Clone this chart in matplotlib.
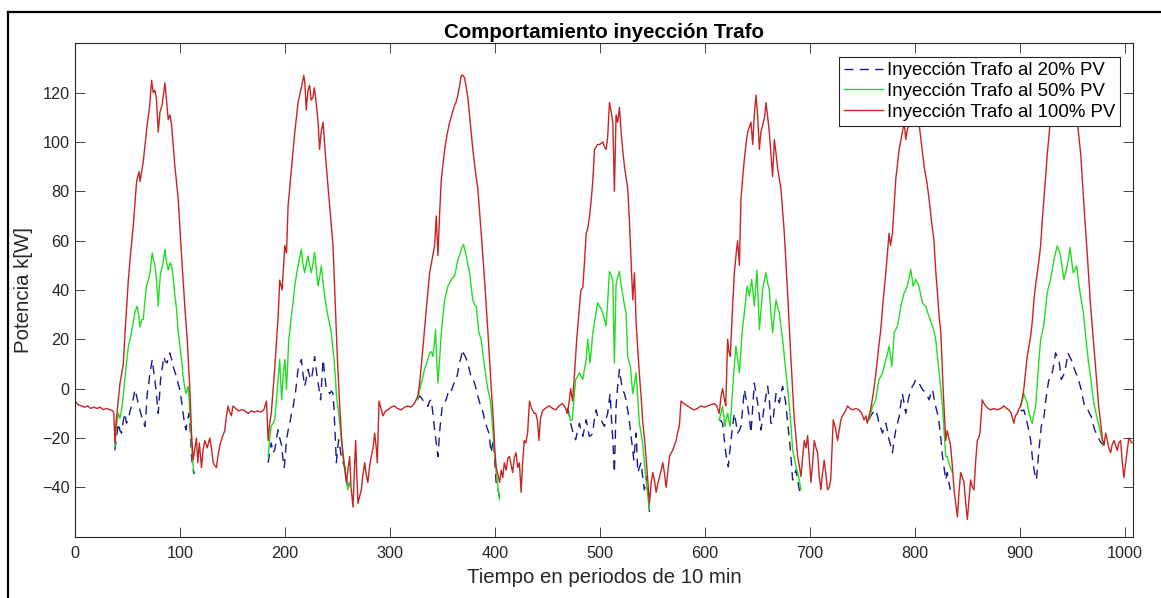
# -*- coding: utf-8 -*-
# Comportamiento de la inyeccion del trafo (3 niveles de PV, 7 dias)
import matplotlib.pyplot as plt
from matplotlib.lines import Line2D

# ---- datos (periodo de 10 min, kW) ----
# 100% PV : serie completa
pv100_t = [0, 3, 6, 9, 12, 15, 18, 21, 24, 27, 30, 33, 36, 37, 38, 39, 40, 42.8, 46, 48, 50.8, 53, 55.5, 58.7,
           61, 62, 65, 68.8, 71, 73, 74.5, 76, 77.5, 79.3, 80.9, 83, 85.7, 87, 88.8, 90.5, 92, 95.2, 98.3,
           101.5, 104.7, 106.9, 109.4, 111, 112.6, 114, 115.7, 117, 118.5, 120.5, 122, 123.7, 126, 128.4,
           130, 131.6, 133, 134.7, 136, 138, 140, 142.7, 144, 145.9, 147, 149, 150.5, 153, 156, 159, 162,
           165, 168, 171, 174, 177, 180, 182.4,
           184, 185.5, 187, 190.4, 193.5, 195, 197.3, 199.9, 201.5, 203, 206.2, 209.4, 212.5, 215.7, 218,
           219, 220.3, 222, 223.5, 225, 226.6, 228, 230, 231.6, 233, 234.5, 236.4, 238, 239.5, 242.7, 245.8,
           248, 250, 252.2, 254, 255.4, 257, 258.5, 260, 261.7, 263, 264.9, 266, 267.4, 268.5, 269.6, 271,
           272.8, 274, 276, 277.5, 279, 280.5, 282.2, 284, 285.5, 287, 288, 289.7, 291.5, 293.4, 296, 298,
           301, 304.4, 307, 310.7, 314, 317, 320, 323.4, 326.6,
           328.3, 330.5, 333, 335.5, 337.9, 340, 342.6, 344.2, 345.8, 347.5, 349, 352.2, 354.5, 356.9, 359,
           361.7, 363, 364.8, 366.5, 368, 369.5, 371.2, 374.3, 376.5, 379, 381.5, 383.8, 387, 390.2, 393.4,
           396.6, 398.8, 400, 401.3, 403, 404.5, 406, 407.6, 409, 410.8, 412.5, 414, 415.5, 417, 418.5,
           420.2, 421.8, 423.4, 425, 426.5, 428, 429.5, 431.2, 433, 435, 437.5, 439, 440.6, 442, 443.5,
           445.4, 448, 451.7, 455, 458, 461, 464.3, 467, 469, 470.6,
           472.2, 474, 475.9, 478, 480.6, 482, 483.8, 485.5, 487, 488.5, 490, 491.5, 493.3, 495, 498, 500,
           502.8, 504.5, 506, 507.5, 509.2, 511, 512.4, 513.9, 515.5, 517, 518.7, 520.3, 522, 523.5, 526.6,
           528, 529.2, 530.5, 531.4, 533, 534.6, 536, 537.7, 539.5, 541, 542.5, 544, 545.5, 547.3, 549,
           550.5, 552, 553.7, 555, 556.8, 558.5, 560, 561.5, 563.2, 565, 566.4, 568, 569.5, 571, 572.7, 574,
           575.8, 577.4, 580, 583.7, 587, 590, 593, 596.4, 600, 602.7, 606, 609, 611.5, 613.8,
           615.5, 617, 619, 620, 621.8, 623, 624.3, 626.5, 628.2, 630, 631.3, 633, 634.5, 636, 637.7, 639.5,
           640.9, 642.5, 644, 645.7, 647, 648.8, 650.5, 652, 653.5, 655.2, 657, 658.3, 660, 661.5, 663,
           664.6, 666.3, 668, 669.5, 671, 672.6, 675.8, 678.9, 682.1, 683.7, 685.3, 687, 688.5, 690, 691.6,
           693.3, 694.8, 696.5, 698, 699.5, 701.2, 702.8, 704.3, 706, 707.5, 709, 710.6, 712, 713.8, 715.5,
           717, 718.5, 720, 721.2, 722.4, 724.5, 726.5, 728, 729.7, 731.2, 732.8, 734.5, 736, 738.5, 740.7,
           744, 747, 749.5, 751.8, 753.5, 754.9, 756.5, 758,
           760.5, 763, 765.5, 767.7, 770, 772.5, 775.6, 777, 778.8, 780.5, 782, 785.2, 788.3, 790, 791.5,
           793, 794.7, 797, 800, 802, 804, 806.5, 809, 811.5, 813.7, 816, 818.4, 820, 821.5, 823.3, 824.9,
           826.5, 828, 829.6, 831, 832.5, 834.2, 836, 837.5, 839, 840.7, 842.2, 843.8, 845.5, 847, 848.5,
           850.2, 851.7, 853.3, 855, 856.5, 858, 859.7, 861, 862.2, 864.4, 866, 867.6, 870, 872.4, 875.5,
           878.7, 882, 885, 887.5, 889.8, 892, 894.5, 896, 897.7, 899.5, 900.9,
           902.5, 904, 905.5, 907.2, 908.8, 910.4, 912, 913.6, 915.2, 916.8, 918.4, 920, 921.5, 923.2, 924.8,
           926.3, 928.9, 931, 934, 937, 940, 943, 946, 949, 952, 955, 956.5, 958.2, 961.3, 964.5, 967.6,
           970.8, 974, 975.5, 977.2, 978.7, 980.3, 982, 983.5, 985, 986.7, 988, 989.8, 991.5, 993, 994.5,
           996.2, 997.8, 999.3, 1001, 1002.5, 1004, 1005.5, 1007]
pv100_kw = [-5, -6.5, -7, -7.5, -7, -8, -7.5, -8, -7.5, -8.5, -8, -8.5, -9, -10, -22, -14, -10, 2, 10, 25, 44, 55, 66, 84,
            88, 84, 92, 107, 114, 125, 120, 121, 118, 104, 112, 115, 124, 118, 109, 111, 107, 90, 77,
            54, 33, 20, 0, -18, -29, -25, -20, -30, -22, -32, -25, -21, -24, -20,
            -24, -30, -31, -32, -28, -23, -20, -17, -12, -7, -9, -11, -7, -8, -9, -8.5, -9,
            -10, -9, -9.5, -9, -9.5, -8.5, -5,
            -21, -14, -10, 9, 29, 44, 40, 58, 55, 74, 89, 104, 116, 122, 127,
            124, 113, 121, 123, 117, 118, 122, 115, 108, 97, 104, 108, 98, 90, 74, 58,
            33.5, 12, -7, -20, -27.5, -33, -38, -33, -27.5, -40, -48, -35, -21, -35, -46.5, -44,
            -41, -36, -30, -35, -38, -32, -27.5, -24, -18, -24, -30, -5, -8, -11, -9, -8.6,
            -7.5, -7, -8, -8.6, -7.5, -7, -7.5, -6, -3,
            2, 12, 24, 36, 47, 52, 58, 70, 54, 72, 85, 97, 103, 108, 111,
            115, 116, 119, 123, 127, 127, 126, 118, 108, 97, 88, 81, 63, 44, 23,
            0, -14, -25, -32, -35, -38, -33, -36, -30, -33, -28, -27.5, -31, -34, -28,
            -26, -32, -30, -42, -30, -21, -22, -18, -5, -8, -10, -10, -13, -21, -12,
            -9, -8, -7, -8, -8.6, -7, -6, -7.5, -10, -6,
            0, -5, 6, 20, 33, 40, 41, 52, 63, 65, 69, 75, 84, 97, 99, 99,
            100, 98, 97, 102, 116, 112, 108, 80, 111, 108, 114, 104, 96, 90, 81,
            70, 58, 45, 36, 47, 27, 17, 6, -4, -14, -20, -27.5, -36, -46.5, -38,
            -34, -37, -42, -39, -36, -33, -30, -34, -40, -33, -27.5, -26, -25, -23, -21, -18,
            -15, -5, -6, -7, -8, -8.6, -8, -7, -7.5, -7, -6.5, -6, -7, -10,
            -3, 0, -5, -7, 20, 15, 13, 33, 47, 55, 60, 50, 77, 85, 93, 100,
            104, 106, 108, 99, 110, 119, 110, 97, 104, 107, 110, 116, 110, 104, 95,
            86, 101, 95, 89, 85, 81, 63, 39, 12, 0, -12.6, -20, -27.5, -31, -35.6,
            -28, -21, -24, -19, -28, -38, -30, -21, -24, -26, -35, -41, -35, -29, -35,
            -41, -40, -37, -25, -12.6, -16, -21, -17, -12.6, -11, -10, -8.5, -7, -8, -8.6,
            -8, -8.6, -10, -12.6, -11, -14, -11, -8.6,
            -2, 6, 16, 24, 36, 47, 63, 58, 63, 75, 85, 97, 104, 108, 101,
            105, 107, 113, 118, 114, 108, 99, 90, 84, 77, 68, 60, 48, 40, 29, 23,
            6, -8, -21, -17, -20, -23, -32, -41, -46, -52, -42, -34, -36, -38, -46,
            -53, -45, -37, -40, -41, -30, -21, -20, -18, -4.5, -6, -7, -8, -8.6, -8,
            -8.6, -8, -7, -8, -8.6, -10, -14, -11, -10, -8, -7,
            -4, 0, 6, 13, 17, 21, 27, 36, 42, 47, 52, 58, 68, 77, 86,
            95, 107, 113, 118, 121, 120, 122, 119, 121, 116, 108, 102, 95, 74, 54, 33.5,
            17, 0, -8, -14, -20, -23, -18, -21, -24, -26, -23, -21, -23, -25, -22,
            -21, -30, -36, -30, -25, -20, -21, -22]

# 50% PV : solo tramos de dia (de noche coincide con 100% PV)
pv50_t = [
    [38, 39.5, 41.2, 42.8, 44.4, 46, 47.6, 49, 50.8, 52.5, 53.9, 55.5, 57.1, 59.3, 60.5, 61.9, 63.5, 65, 66.5, 68.2,
     70, 71.4, 73.6, 75, 76.1, 77.5, 79.3, 80.5, 81.5, 83.5, 85.7, 87, 88.8, 90.5, 92, 93.5, 95.2, 96.8, 98.3,
     100, 101.5, 103, 104.7, 106, 107.8, 109, 110, 111, 112, 113, 114.2],
    [184, 185.5, 187, 188.7, 190.4, 192, 193.5, 195, 196.9, 198.5, 200, 201.5, 203.7, 206.2, 208, 209.4, 211, 212.5,
     214, 215.7, 217, 218.8, 220.5, 222, 223.5, 225.2, 226.8, 228.3, 230, 231.6, 233, 234.7, 236.3, 237.9, 239.5,
     241, 242.7, 244.2, 245.5, 246.8, 248, 249, 250, 251.2, 252.5, 253.7, 255.4, 257, 258.5, 260, 261.5],
    [326.6, 328.3, 330.5, 333, 335.5, 337.9, 339.5, 341, 342.3, 343.5, 344.6, 345.8, 347.4, 349, 350.6, 352.2, 353.8,
     355.3, 357, 358.5, 360, 361.7, 363.3, 364.8, 366.4, 368, 370.2, 371.5, 372.8, 374.4, 376, 377.5, 379, 380.7,
     382.3, 383.5, 384.8, 387, 388.6, 390.2, 391.8, 393.4, 395.6, 396.8, 398, 399.6, 401.3, 403, 404.5],
    [469, 470.6, 472.2, 473.8, 475.4, 477, 478.8, 480.6, 482.2, 483.8, 485.4, 487, 488.5, 490.7, 492, 493.3, 494.9,
     496.5, 498, 500.4, 502.8, 504.4, 506, 507.6, 509.2, 510.8, 512.4, 513.9, 515.5, 517, 518.7, 520.3, 521.9,
     523.4, 525, 526.6, 527.9, 529.2, 530.3, 531.4, 533, 534.6, 536.2, 537.7, 539.3, 541, 542.5, 544, 545.6, 547.3],
    [613.8, 615.4, 617, 619.2, 620.5, 621.8, 623, 624.3, 625.4, 626.5, 628.1, 629.7, 631.3, 633, 634, 635.1, 636.4,
     637.7, 639, 640.3, 641.4, 642.5, 643.6, 644.7, 646, 647.2, 648.5, 649.7, 651, 652, 653.6, 655.2, 656.8, 658.3,
     659.9, 661.5, 663.1, 664.7, 666.3, 667.9, 669.5, 671, 672.6, 674.2, 675.8, 677.4, 679, 680.6, 682.1, 683.7,
     685.3, 686.9, 688.5, 690, 691.6],
    [756.6, 758.2, 759.8, 761.4, 763, 764.5, 766, 767.7, 769.3, 770.9, 772.5, 774, 775.6, 777, 778.2, 779.3, 780.4,
     782, 783.6, 785.2, 786.8, 788.4, 790, 791.5, 793, 794.7, 796.3, 797.4, 798.5, 799.8, 801, 802.5, 804, 805.7,
     807.4, 809, 810.6, 812.2, 813.7, 815.4, 817, 818.5, 820, 821.7, 823.3, 824.9, 826.5, 828, 829.6, 831, 832.6,
     834, 836],
    [900.9, 902.5, 904, 905.6, 907.2, 908.5, 909.8, 911, 912, 913.6, 915.2, 916.8, 918.4, 920, 921.6, 923.2, 924.8,
     926.3, 928, 929.5, 931, 932.7, 934.2, 935.8, 937.4, 939, 940.6, 942.2, 943.8, 945.4, 946.7, 948, 949.5, 951,
     952.6, 954.3, 955.9, 957.5, 959.1, 960.7, 962.3, 963.9, 965.5, 967, 968.6, 970.2, 971.8, 973.4, 975, 976.5,
     978.1, 979.7, 981],
]
pv50_kw = [
    [-23.5, -15, -10, -12, -8.6, -3, 4.5, 10, 17, 20, 23, 27, 31, 33.5, 30, 25, 28, 28, 35, 42,
     44, 47, 55, 52, 50, 45, 33.5, 42, 47, 50, 56.5, 52, 48, 51, 50, 45, 37.5, 32, 23,
     17, 12, 5, 0, -2, 1, -6, -14, -22, -29, -33, -34.5],
    [-27.5, -20, -15.3, -14, -12.6, -4, 3.7, 11.8, -4.5, 6.4, 11.8, -0.4, 20, 29.4, 36, 41.6, 46, 49.8,
     53, 56.5, 51, 47, 51, 53.8, 50, 47, 51, 55.2, 48, 41.6, 45, 49.8, 43, 37.5, 33,
     29.4, 26, 22.7, 17, 11.8, 5, -2, -6, -10, -15, -20.7, -26, -31.6, -36, -41, -38],
    [-4.5, -0.4, 3, 7.8, 11, 14.5, 15, 13, 18, 24, 12, 2.3, 12, 22.7, 30, 36, 39,
     41.6, 43, 44.3, 45, 45.7, 49, 52.4, 54, 56.5, 58.5, 56, 53.8, 50, 47, 41, 36, 34,
     33.5, 28, 22.7, 20, 14, 9, 4, -0.4, -4.5, -10, -16.7, -25, -34, -40, -45],
    [-10, -10, -13, -12.6, -4, 3.7, 5, 6.4, 5, 3.7, 8, 11.8, 20, 10.4, 16, 22.7, 26.7,
     31, 34.8, 33, 30.8, 28, 25.4, 36, 47.5, 46, 44, 10.4, 42.3, 45, 47.5, 42, 38,
     34, 30.8, 13, 11, 9, 3, -2, 2, 6.4, -4, -14, -18, -23, -30, -37, -43, -49],
    [-12.6, -10, -7.2, -15.3, -12, -10, -13, -15.3, -8, -0.4, 9, 17.3, 12, 6.4, 13, 20, 26,
     30.8, 36, 41.6, 40, 37.5, 41, 44.3, 39, 33.5, 41, 48, 35, 24, 32, 40.3, 44, 47,
     43, 40, 30, 22.7, 30, 36, 33, 30.8, 25, 20, 13, 6.4, 0, -7.2, -15, -24.7,
     -28, -31.6, -34, -37, -41],
    [-12.6, -10, -7.2, -6, -4.5, 0, 3.7, 5, 6.4, 9, 11.8, 14, 17.3, 13, 9, 15, 22.7,
     24, 25.4, 29, 33.5, 36, 39, 40, 41.6, 45, 48.3, 45, 41.6, 43, 44.3, 43, 41.6, 38,
     34.8, 34, 33.5, 31, 29.4, 27, 25.4, 23, 20, 13, 6.4, 0, -7.2, -17, -27.5, -27.5, -30,
     -32, -34],
    [-7.2, -5, -2, -4, -5.8, -9, -11.3, -13, -14, -10, -7.2, 2, 11.8, 20, 23, 26.7, 33,
     39, 42, 44.3, 48, 52.4, 55, 57.9, 56, 53.8, 49, 44.3, 47, 49.8, 53, 57.2, 52, 47,
     48, 49.8, 44, 39, 35, 30.8, 24, 17.3, 11, 6.4, 1, -4.5, -8, -11.3, -14, -16.7,
     -20, -23, -22],
]

# 20% PV : solo tramos de dia
pv20_t = [
    [38, 39.5, 41.2, 42.8, 44.4, 46, 47.6, 49, 50.8, 52.5, 53.9, 55.5, 57.1, 58.7, 60.3, 62, 63.4, 65, 66.6, 68,
     68.8, 70, 71.4, 72.5, 73.6, 75, 76.1, 77.5, 79.3, 80.5, 81.5, 83, 84.6, 86, 87.8, 89, 90.3, 92, 93.5, 95,
     96.6, 98.3, 99.9, 101.5, 103, 104.3, 105.6, 107, 108.7, 110, 111, 112, 113.2],
    [184, 185.5, 187, 188.7, 190.4, 192, 193.5, 195, 196.9, 198, 199.4, 200.5, 201.5, 203, 204.7, 206.3, 207.9,
     209, 210, 211.2, 212.5, 214, 215.7, 217.2, 218.8, 220.4, 222, 223.6, 225.2, 226.8, 228.3, 230, 231.6, 232.8,
     234, 235.2, 236.4, 238, 239.5, 241, 242.7, 244.3, 245.8, 246.7, 247.5, 248.3, 249, 250, 251.2, 252.5, 253.7,
     255.4, 257, 258.5, 260, 261.5],
    [326.6, 328.3, 330.5, 333, 334.5, 336.2, 337.8, 339.4, 341, 342.6, 344.2, 345.8, 347.3, 348.6, 349.9, 351.7,
     353.6, 355.2, 356.9, 358.5, 360, 361.7, 363.3, 364.9, 366.4, 368, 369, 370.5, 372, 373.5, 375, 376.7, 378.4,
     380, 381.5, 383.2, 384.8, 386.4, 388, 389.5, 391, 392.7, 394.3, 395.4, 396.5, 397.6, 398.8, 400, 401.3, 403,
     404.5],
    [469, 470.6, 472.2, 473.8, 475.4, 477, 478.8, 480.6, 482.2, 483.8, 485.4, 487, 488.5, 490, 491.7, 493.3, 494.9,
     496.5, 498, 499.6, 501.2, 502.8, 504.4, 506, 507.5, 508.6, 509.8, 511.1, 512.4, 513.9, 515.5, 517, 518.7,
     520.3, 521.9, 523.4, 525, 526.3, 527.6, 528.7, 529.8, 531.1, 532.4, 533.5, 534.6, 535.4, 536.2, 537.7, 539.3,
     540.9, 542.5, 543.7, 545, 546.2, 547.3],
    [613.8, 615.4, 617, 618.5, 620, 621.2, 622.4, 623.7, 625, 626.6, 628.2, 629.8, 631.3, 632.9, 634.5, 636.1,
     637.7, 639.3, 640.9, 642.5, 644, 645.6, 647.2, 648.8, 650.4, 652, 653.5, 655.1, 656.7, 658.3, 659.9, 661.5,
     663, 664.7, 666.3, 667.9, 669.5, 671, 672.6, 674.2, 675.5, 676.7, 677.9, 679, 680.5, 682.1, 683.7, 685.3,
     686.9, 688.5, 690, 691.6],
    [756.6, 758.2, 759.8, 761.4, 763, 764.5, 766, 767.7, 769.3, 770.9, 772.5, 774, 775.6, 777.2, 778.8, 780.4,
     782, 783.6, 785.2, 786.8, 788.3, 789.9, 791.5, 793.1, 794.7, 796.2, 797.8, 799.4, 801, 802.5, 804, 805.7,
     807.4, 809, 810.6, 812.2, 813.7, 815.4, 817, 818.5, 820, 821.7, 823.3, 824.9, 826.5, 828, 829.6, 831, 832.5,
     834],
    [900.9, 902.5, 904, 905.6, 907.2, 908.8, 910.4, 911.2, 912, 913.1, 914.2, 915.1, 916, 917.2, 918.4, 919.5,
     920.6, 921.9, 923.2, 924.8, 926.3, 927.6, 928.9, 930, 931, 932.6, 934.2, 935.8, 937.4, 938.5, 939.6, 941.2,
     942.8, 944.4, 946, 947.6, 949.1, 950.7, 952.3, 953.9, 955.5, 957.1, 958.7, 960.3, 961.9, 963.4, 965, 966.6,
     968.2, 969.8, 971.4, 973, 974.6, 976.2, 977.8, 980.3],
]
pv20_kw = [
    [-25, -20, -14, -17, -18, -13, -10, -14, -12.6, -9, -7, -4, -0.4, -3, -6, -9, -11, -13, -15.3, -8,
     -2, 1, 6.4, 9, 11.8, 7, 3.7, -2, -10, -3, 3.7, 8, 13, 11, 10.4, 13, 14.5, 12, 9, 7,
     5, 2, -0.4, -5, -10, -14, -16.7, -13, -10, -18, -27.5, -31, -34.5],
    [-30, -26, -22, -26, -24.7, -20, -16.7, -20, -23, -28, -32, -26, -20.7, -17, -14, -10, -7.2,
     -4, -2, 3, 7.8, 10, 11.8, 6, 1, 4, 7.8, 5, 3.7, 8, 13, 7, 2.3, -1,
     -4.5, 4, 11.8, 5, -0.4, -1, -2, -1, -2, -8, -15.3, -23, -30, -25, -20.7, -24, -27.5,
     -30, -31.6, -36, -41, -38],
    [-4, -3, -4, -5.8, -6, -7.2, -5, -4.5, -10, -16.7, -22, -27.5, -18, -12, -7.2, -6,
     -4.5, -2, -0.4, -1, 1, 3, 3.7, 7, 10.4, 13, 15.8, 14, 13, 11, 9, 6, 3.7,
     3, 1, -2, -4.5, -7, -8.6, -11, -14, -16, -18, -22, -26, -23, -20.7, -30, -38.4, -41,
     -44],
    [-8, -10, -14, -16.7, -19, -20.7, -17, -14, -17, -19.3, -16, -12.6, -16, -19.3, -19, -18, -12,
     -8.6, -11.3, -12, -12.6, -14, -15.3, -12, -10, -6, -2, -12, -20.7, -34, -7.2, 1, 7.8,
     3, -0.4, -2, -4.5, -8, -11.3, -15, -19.3, -24, -28.9, -23, -18, -26, -34, -32, -30,
     -36, -41, -38, -35.6, -43, -50],
    [-12.6, -13, -14, -20, -26, -29, -31.6, -26, -20.7, -15, -10, -14, -18, -17, -15.3, -8,
     -0.4, -4, -7.2, -12, -18, -8, 2.3, -2, -5.8, -11, -16.7, -12, -7.2, -3, 1, -4.5,
     -14, -14, -8, -2, -4, -5.8, -2, 1, -2, -4.5, -9, -14, -20, -27.5, -37, -35,
     -33, -37, -41, -42],
    [-12.6, -11, -10, -9, -8.6, -11, -14, -16, -18, -16, -14, -17, -20.7, -23, -26, -21,
     -16.7, -14, -11.3, -6, -2, -6, -10, -6, -3, -1, 1, 2, 3.7, 3, 2.3, 1,
     -0.4, -1, -2, -3, -4.5, -2, -0.4, -4, -7.2, -10, -14, -20, -27.5, -32, -37, -34, -38,
     -41],
    [-8.6, -9, -8.6, -11, -14, -17, -20.7, -24, -27.5, -31, -34, -36, -37, -31, -24.7, -20,
     -15.3, -13, -11.3, -5, -0.4, 3, 5, 6, 6.4, 10, 14.5, 13, 11.8, 8, 3.7, 5,
     6.4, 10, 14.5, 13, 11.8, 10, 7.8, 6, 5, 2, -0.4, -4, -7.2, -8, -8.6, -10,
     -11.3, -14, -16.7, -18, -19.3, -21, -22, -23],
]

etiquetas = ['Inyección Trafo al 20% PV', 'Inyección Trafo al 50% PV', 'Inyección Trafo al 100% PV']

plt.rcParams['font.family'] = ['Liberation Sans', 'DejaVu Sans']
gris = '#262626'

fig = plt.figure(figsize=(11.61, 5.98), dpi=100)
ax = fig.add_axes([75 / 1161, 61.3 / 598, 1058 / 1161, 493.4 / 598])

# orden como en matlab: 20%, 50%, 100% (el rojo queda encima)
for i in range(len(pv20_t)):
    ax.plot(pv20_t[i], pv20_kw[i], color='#1a1a90', lw=1.0, dashes=(6.5, 4.5),
            label=etiquetas[0] if i == 0 else None)
for i in range(len(pv50_t)):
    ax.plot(pv50_t[i], pv50_kw[i], color='#22dd22', lw=1.0,
            label=etiquetas[1] if i == 0 else None)
ax.plot(pv100_t, pv100_kw, color='#c82424', lw=1.0, label=etiquetas[2])

ax.set_xlim(0, 1008)
ax.set_ylim(-60, 140)
ax.set_xticks(range(0, 1001, 100))
ax.set_yticks(range(-40, 121, 20))
ax.tick_params(direction='in', top=True, right=True, length=7.5, width=0.6,
               colors=gris, labelsize=11.7)
ax.tick_params(axis='x', pad=7)
ax.tick_params(axis='y', pad=4)
for s in ax.spines.values():
    s.set_color(gris)
    s.set_linewidth(0.8)

ax.set_title('Comportamiento inyección Trafo', fontsize=14.8, fontweight='bold', pad=3.5)
ax.set_xlabel('Tiempo en periodos de 10 min', fontsize=14.7, color=gris, labelpad=5)
ax.set_ylabel('Potencia k[W]', fontsize=14.7, color=gris, labelpad=6)

leg = ax.legend(loc='upper right', bbox_to_anchor=(0.9877, 0.9722), borderaxespad=0,
                fontsize=13.4, handlelength=2.1, handletextpad=0.2, borderpad=0.28,
                labelspacing=0.2, fancybox=False, framealpha=1)
leg.get_frame().set_edgecolor(gris)
leg.get_frame().set_linewidth(0.8)

# marco de la figura (izquierda y arriba)
fig.add_artist(Line2D([8 / 1161, 8 / 1161], [0, 1 - 12 / 598], color='black', lw=1.6))
fig.add_artist(Line2D([8 / 1161, 1], [1 - 12 / 598, 1 - 12 / 598], color='black', lw=1.6))

plt.savefig('out.png', dpi=100)
